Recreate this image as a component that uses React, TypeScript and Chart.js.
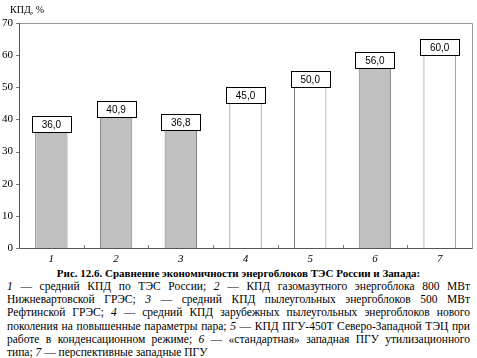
import React, { useEffect, useRef } from "react";
import { Chart, registerables } from "chart.js";

Chart.register(...registerables);

const categories = ["1", "2", "3", "4", "5", "6", "7"];
const efficiency = [36.0, 40.9, 36.8, 45.0, 50.0, 56.0, 60.0];
const valueLabels = ["36,0", "40,9", "36,8", "45,0", "50,0", "56,0", "60,0"];
const shaded = [true, true, true, false, false, true, false];
const yTicks = [0, 10, 20, 30, 40, 50, 60, 70];

const axisLabel = "КПД, %";
const captionTitle = "Рис. 12.6. Сравнение экономичности энергоблоков ТЭС России и Запада:";

const CANVAS_W = 477;
const CANVAS_H = 265;

const framePlugin = {
  id: "frame",
  afterDatasetsDraw(chart: any) {
    const { ctx, chartArea, scales } = chart;
    ctx.save();
    ctx.strokeStyle = "#9a9a9a";
    ctx.lineWidth = 1;
    ctx.beginPath();
    ctx.moveTo(Math.round(chartArea.left) + 0.5, Math.round(chartArea.top) + 0.5);
    ctx.lineTo(Math.round(chartArea.right) + 0.5, Math.round(chartArea.top) + 0.5);
    ctx.lineTo(Math.round(chartArea.right) + 0.5, Math.round(chartArea.bottom) + 0.5);
    ctx.stroke();
    ctx.strokeStyle = "#555555";
    ctx.beginPath();
    ctx.moveTo(Math.round(chartArea.left) + 0.5, Math.round(chartArea.top));
    ctx.lineTo(Math.round(chartArea.left) + 0.5, Math.round(chartArea.bottom) + 0.5);
    ctx.lineTo(Math.round(chartArea.right) + 0.5, Math.round(chartArea.bottom) + 0.5);
    ctx.stroke();
    const xs = scales.x;
    const n = categories.length;
    const step = (chartArea.right - chartArea.left) / n;
    ctx.strokeStyle = "#777777";
    ctx.beginPath();
    for (let i = 1; i < n; i++) {
      const x = Math.round(xs.getPixelForValue(i) - step / 2) + 0.5;
      ctx.moveTo(x, chartArea.bottom);
      ctx.lineTo(x, chartArea.bottom - 3);
    }
    ctx.stroke();
    const ys = scales.y;
    ctx.beginPath();
    for (const t of yTicks) {
      const y = Math.round(ys.getPixelForValue(t)) + 0.5;
      ctx.moveTo(chartArea.left - 3, y);
      ctx.lineTo(chartArea.left, y);
    }
    ctx.stroke();
    const meta = chart.getDatasetMeta(0);
    ctx.font = "10px 'Liberation Sans', Arial, sans-serif";
    ctx.textAlign = "center";
    ctx.textBaseline = "middle";
    meta.data.forEach((bar: any, i: number) => {
      const bw = 39;
      const bh = 16;
      const x0 = Math.round(bar.x - bw / 2) + 0.5;
      const y0 = Math.round(bar.y - bh) + 0.5;
      ctx.fillStyle = "#ffffff";
      ctx.fillRect(x0, y0, bw, bh);
      ctx.strokeStyle = "#000000";
      ctx.lineWidth = 1;
      ctx.strokeRect(x0, y0, bw, bh);
      ctx.fillStyle = "#000000";
      ctx.fillText(valueLabels[i], bar.x, y0 + bh / 2 + 0.5);
    });
    ctx.restore();
  },
};

function ChartView() {
  const ref = useRef<HTMLCanvasElement | null>(null);
  useEffect(() => {
    if (!ref.current) return;
    const chart = new Chart(ref.current, {
      type: "bar",
      data: {
        labels: categories,
        datasets: [
          {
            data: efficiency,
            backgroundColor: shaded.map((s) => (s ? "#c0c0c0" : "#ffffff")),
            borderColor: "#7a7a7a",
            borderWidth: { left: 1, right: 1, top: 0, bottom: 0 } as any,
            borderSkipped: false,
            categoryPercentage: 1,
            barPercentage: 0.5,
          },
        ],
      },
      options: {
        animation: false,
        responsive: false,
        maintainAspectRatio: false,
        layout: { padding: { left: 0, right: 5, top: 23, bottom: 0 } },
        plugins: { legend: { display: false }, tooltip: { enabled: false } },
        scales: {
          x: {
            grid: { display: false, drawTicks: false },
            border: { display: false },
            ticks: {
              color: "#000000",
              padding: 5,
              font: { family: "'Liberation Serif', 'Times New Roman', serif", size: 11, style: "italic" },
            },
            afterFit: (s: any) => {
              s.height = 17;
            },
          },
          y: {
            min: 0,
            max: 70,
            grid: { display: false, drawTicks: false },
            border: { display: false },
            afterBuildTicks: (s: any) => {
              s.ticks = yTicks.map((v) => ({ value: v }));
            },
            ticks: {
              color: "#000000",
              padding: 6,
              font: { family: "'Liberation Serif', 'Times New Roman', serif", size: 11 },
            },
            afterFit: (s: any) => {
              s.width = 19;
            },
          },
        },
      },
      plugins: [framePlugin],
    });
    return () => chart.destroy();
  }, []);
  return <canvas ref={ref} width={CANVAS_W} height={CANVAS_H} style={{ display: "block", width: CANVAS_W, height: CANVAS_H }} />;
}

const lineStyle: React.CSSProperties = {
  textAlign: "justify",
  textAlignLast: "justify" as any,
  whiteSpace: "nowrap",
  height: 13.2,
  lineHeight: "13.2px",
};

export default function App() {
  const serif = "'Liberation Serif', 'Times New Roman', serif";
  return (
    <div style={{ position: "absolute", left: 0, top: 0, width: 477, height: 358, background: "#fff", overflow: "hidden" }}>
      <ChartView />
      <div style={{ position: "absolute", left: 10, top: 4, fontFamily: serif, fontSize: 10, color: "#000" }}>{axisLabel}</div>
      <div style={{ position: "absolute", left: 0, top: 266, width: 477, fontFamily: serif, fontSize: 11.5, color: "#000" }}>
        <div style={{ position: "absolute", left: 0, top: 0, width: 477, textAlign: "center", fontWeight: "bold", fontSize: 11, lineHeight: "14px", height: 14 }}>
          {captionTitle}
        </div>
        <div style={{ position: "absolute", left: 7, top: 14, width: 463 }}>
          <div style={lineStyle}>
            <i>1</i> — средний КПД по ТЭС России; <i>2</i> — КПД газомазутного энергоблока 800 МВт
          </div>
          <div style={lineStyle}>
            Нижневартовской ГРЭС; <i>3</i> — средний КПД пылеугольных энергоблоков 500 МВт
          </div>
          <div style={lineStyle}>
            Рефтинской ГРЭС; <i>4</i> — средний КПД зарубежных пылеугольных энергоблоков нового
          </div>
          <div style={lineStyle}>
            поколения на повышенные параметры пара; <i>5</i> — КПД ПГУ-450Т Северо-Западной ТЭЦ при
          </div>
          <div style={lineStyle}>
            работе в конденсационном режиме; <i>6</i> — «стандартная» западная ПГУ утилизационного
          </div>
          <div style={{ ...lineStyle, textAlign: "left", textAlignLast: "left" as any }}>
            типа; <i>7</i> — перспективные западные ПГУ
          </div>
        </div>
      </div>
    </div>
  );
}
